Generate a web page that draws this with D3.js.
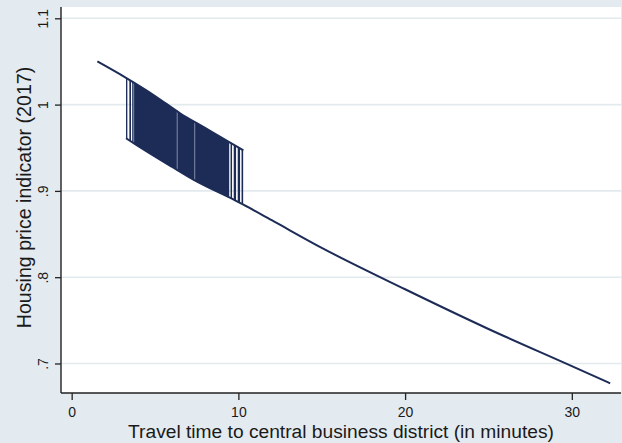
<!DOCTYPE html>
<html>
<head>
<meta charset="utf-8">
<script src="https://cdn.jsdelivr.net/npm/d3@7/dist/d3.min.js"></script>
<style>
  html, body { margin: 0; padding: 0; background: #e4ebf0; }
  svg { display: block; font-family: "Liberation Sans", Arial, sans-serif; }
</style>
</head>
<body>
<svg id="chart" width="622" height="443"></svg>
<script>
// Price indicator along the upper curve (shorter travel times)
const upperTime  = [1.54, 3.26, 5.0, 6.5, 8.0, 9.4, 10.3];
const upperPrice = [1.050, 1.031, 1.010, 0.990, 0.973, 0.957, 0.947];

// Price indicator along the lower curve (full range of travel times)
const lowerTime  = [3.26, 3.9, 6.0, 7.3, 9.8, 10.3, 12, 15, 20, 25, 30, 32.3];
const lowerPrice = [0.961, 0.953, 0.928, 0.913, 0.889, 0.884, 0.866, 0.834, 0.786, 0.740, 0.697, 0.677];

// Travel-time stretches covered by vertical spikes between the two curves
const spikeSpans = [[3.26, 3.34], [3.46, 3.56], [3.63, 9.45], [9.53, 9.62], [9.72, 9.86], [9.96, 10.10], [10.19, 10.30]];
// Thin breaks inside the dense spike band
const spikeBreaks = [3.72, 6.33, 7.38];

// Axis ticks
const xTicks = [0, 10, 20, 30];
const yTicks = [0.7, 0.8, 0.9, 1.0, 1.1];
const yTickLabels = [".7", ".8", ".9", "1", "1.1"];

const xTitle = "Travel time to central business district (in minutes)";
const yTitle = "Housing price indicator (2017)";

const navy = "#1d2c57";
const plot = { left: 61, right: 621, top: 7, bottom: 393 };

const svg = d3.select("#chart");

const x = d3.scaleLinear().domain([-0.64, 32.95]).range([plot.left, plot.right]);
const y = d3.scaleLinear().domain([0.6658, 1.1131]).range([plot.bottom, plot.top]);

// Plot region
svg.append("rect")
  .attr("x", plot.left).attr("y", plot.top)
  .attr("width", plot.right - plot.left).attr("height", plot.bottom - plot.top)
  .attr("fill", "#ffffff");

// Horizontal grid lines
svg.append("g")
  .selectAll("line")
  .data(yTicks)
  .join("line")
  .attr("x1", plot.left).attr("x2", plot.right)
  .attr("y1", d => y(d)).attr("y2", d => y(d))
  .attr("stroke", "#e2eaee")
  .attr("stroke-width", 1.6);

const upperPts = upperTime.map((t, i) => [t, upperPrice[i]]);
const lowerPts = lowerTime.map((t, i) => [t, lowerPrice[i]]);

const line = d3.line().x(p => x(p[0])).y(p => y(p[1])).curve(d3.curveMonotoneX);

// Band between the two curves over the spiked travel-time range
const t0 = d3.min(spikeSpans, s => s[0]);
const t1 = d3.max(spikeSpans, s => s[1]);
const bandUpper = upperPts.filter(p => p[0] >= t0 && p[0] <= t1);
const bandLower = lowerPts.filter(p => p[0] >= t0 && p[0] <= t1).reverse();
const bandPath = line(bandUpper) + "L" + line(bandLower).slice(1) + "Z";

const defs = svg.append("defs");
defs.append("clipPath").attr("id", "band")
  .append("path")
  .attr("d", bandPath);

const spikes = svg.append("g").attr("clip-path", "url(#band)");
spikes.selectAll("rect")
  .data(spikeSpans)
  .join("rect")
  .attr("x", s => x(s[0]))
  .attr("width", s => x(s[1]) - x(s[0]))
  .attr("y", plot.top)
  .attr("height", plot.bottom - plot.top)
  .attr("fill", navy);
spikes.selectAll("line")
  .data(spikeBreaks)
  .join("line")
  .attr("x1", d => x(d)).attr("x2", d => x(d))
  .attr("y1", plot.top).attr("y2", plot.bottom)
  .attr("stroke", "#ffffff")
  .attr("stroke-opacity", 0.45)
  .attr("stroke-width", 1);

// Curves
svg.append("path").datum(upperPts)
  .attr("d", line).attr("fill", "none")
  .attr("stroke", navy).attr("stroke-width", 2);
svg.append("path").datum(lowerPts)
  .attr("d", line).attr("fill", "none")
  .attr("stroke", navy).attr("stroke-width", 2);

// X axis
const gx = svg.append("g")
  .attr("transform", `translate(0,${plot.bottom})`)
  .call(d3.axisBottom(x).tickValues(xTicks).tickSize(7).tickSizeOuter(0).tickFormat(d3.format("d")));
gx.select(".domain").remove();
gx.selectAll(".tick line").attr("stroke", "#222").attr("stroke-width", 1.3);
gx.selectAll(".tick text")
  .attr("y", 23.5).attr("dy", 0)
  .attr("fill", "#1a1a1a")
  .style("font-size", "14px");
svg.append("line")
  .attr("x1", plot.left).attr("x2", plot.right)
  .attr("y1", plot.bottom).attr("y2", plot.bottom)
  .attr("stroke", "#222").attr("stroke-width", 1.4);

// Y axis
const gy = svg.append("g")
  .attr("transform", `translate(${plot.left},0)`)
  .call(d3.axisLeft(y).tickValues(yTicks).tickSize(6).tickSizeOuter(0)
    .tickFormat((d, i) => yTickLabels[i]));
gy.select(".domain").remove();
gy.selectAll(".tick line").attr("stroke", "#222").attr("stroke-width", 1.3);
gy.selectAll(".tick text")
  .attr("x", 0).attr("y", 0).attr("dy", 0)
  .attr("text-anchor", "middle")
  .attr("transform", "translate(-13,0) rotate(-90)")
  .attr("fill", "#1a1a1a")
  .style("font-size", "14px");
svg.append("line")
  .attr("x1", plot.left).attr("x2", plot.left)
  .attr("y1", plot.top).attr("y2", plot.bottom)
  .attr("stroke", "#222").attr("stroke-width", 1.4);

// Axis titles
svg.append("text")
  .attr("x", (plot.left + plot.right) / 2)
  .attr("y", 438)
  .attr("text-anchor", "middle")
  .attr("fill", "#1a1a1a")
  .style("font-size", "19.2px")
  .text(xTitle);

svg.append("text")
  .attr("transform", `translate(31,${197.5}) rotate(-90)`)
  .attr("text-anchor", "middle")
  .attr("fill", "#1a1a1a")
  .style("font-size", "19.6px")
  .text(yTitle);
</script>
</body>
</html>
